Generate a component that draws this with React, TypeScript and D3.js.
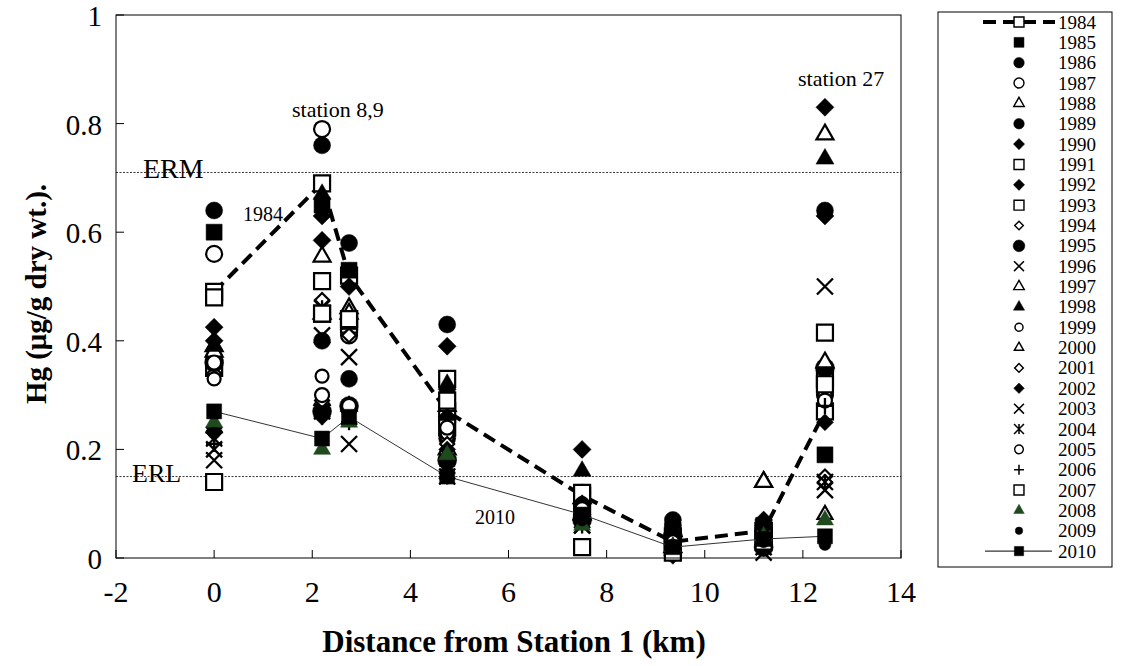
import React from 'react';
import * as d3 from 'd3';

// Sampling stations, distance from Station 1 (km)
const stations = [0, 2.2, 2.75, 4.75, 7.5, 9.35, 11.2, 12.45];

// Hg concentration (µg/g dry wt.) per year at each station
const hg1984 = [0.49, 0.69, 0.52, 0.27, 0.115, 0.03, 0.05, 0.27];
const hg1985 = [0.6, 0.65, 0.53, 0.3, 0.1, 0.05, 0.06, 0.19];
const hg1986 = [0.37, 0.76, 0.58, 0.43, 0.09, 0.06, 0.05, 0.35];
const hg1987 = [0.56, 0.79, 0.41, 0.25, 0.12, 0.04, 0.03, 0.3];
const hg1988 = [0.39, 0.555, 0.46, 0.28, 0.11, 0.05, 0.14, 0.78];
const hg1989 = [0.64, 0.4, 0.33, 0.22, 0.08, 0.07, 0.04, 0.64];
const hg1990 = [0.425, 0.585, 0.5, 0.39, 0.2, 0.005, 0.07, 0.83];
const hg1991 = [0.48, 0.51, 0.44, 0.33, 0.12, 0.04, 0.05, 0.415];
const hg1992 = [0.4, 0.63, 0.42, 0.26, 0.1, 0.03, 0.06, 0.63];
const hg1993 = [0.35, 0.45, 0.43, 0.24, 0.09, 0.02, 0.04, 0.33];
const hg1994 = [0.34, 0.475, 0.41, 0.22, 0.07, 0.03, 0.03, 0.15];
const hg1995 = [0.36, 0.27, 0.28, 0.18, 0.07, 0.04, 0.02, 0.35];
const hg1996 = [0.2, 0.41, 0.37, 0.17, 0.06, 0.03, 0.03, 0.5];
const hg1997 = [0.38, 0.45, 0.45, 0.2, 0.08, 0.02, 0.14, 0.36];
const hg1998 = [0.39, 0.67, 0.43, 0.32, 0.16, 0.05, 0.06, 0.735];
const hg1999 = [0.33, 0.335, 0.27, 0.23, 0.1, 0.03, 0.04, 0.3];
const hg2000 = [0.24, 0.29, 0.28, 0.19, 0.09, 0.02, 0.03, 0.08];
const hg2001 = [0.23, 0.29, 0.27, 0.21, 0.08, 0.01, 0.02, 0.14];
const hg2002 = [0.24, 0.26, 0.27, 0.2, 0.1, 0.01, 0.03, 0.25];
const hg2003 = [0.18, 0.27, 0.21, 0.16, 0.07, 0.02, 0.01, 0.125];
const hg2004 = [0.22, 0.46, 0.26, 0.15, 0.06, 0.01, 0.02, 0.14];
const hg2005 = [0.36, 0.3, 0.28, 0.24, 0.09, 0.02, 0.03, 0.29];
const hg2006 = [0.21, 0.26, 0.25, 0.17, 0.07, 0.02, 0.02, 0.28];
const hg2007 = [0.14, 0.45, 0.44, 0.29, 0.02, 0.01, 0.03, 0.32];
const hg2008 = [0.25, 0.2, 0.25, 0.19, 0.06, 0.02, 0.04, 0.07];
const hg2009 = [0.23, 0.27, 0.26, 0.16, 0.07, 0.02, 0.03, 0.025];
const hg2010 = [0.27, 0.22, 0.26, 0.15, 0.08, 0.02, 0.035, 0.04];

const years = [
  '1984', '1985', '1986', '1987', '1988', '1989', '1990', '1991', '1992',
  '1993', '1994', '1995', '1996', '1997', '1998', '1999', '2000', '2001',
  '2002', '2003', '2004', '2005', '2006', '2007', '2008', '2009', '2010',
];
const series = [
  hg1984, hg1985, hg1986, hg1987, hg1988, hg1989, hg1990, hg1991, hg1992,
  hg1993, hg1994, hg1995, hg1996, hg1997, hg1998, hg1999, hg2000, hg2001,
  hg2002, hg2003, hg2004, hg2005, hg2006, hg2007, hg2008, hg2009, hg2010,
];

// Sediment quality guidelines
const ERM = 0.71;
const ERL = 0.15;

const xTicks = [-2, 0, 2, 4, 6, 8, 10, 12, 14];
const yTicks = [0, 0.2, 0.4, 0.6, 0.8, 1];

type Marker = { shape: string; filled: boolean; size: number; color?: string };
const markers: Marker[] = [
  { shape: 'sq', filled: false, size: 16 },
  { shape: 'sq', filled: true, size: 16 },
  { shape: 'circ', filled: true, size: 17 },
  { shape: 'circ', filled: false, size: 16 },
  { shape: 'tri', filled: false, size: 17 },
  { shape: 'circ', filled: true, size: 17 },
  { shape: 'dia', filled: true, size: 18 },
  { shape: 'sq', filled: false, size: 16 },
  { shape: 'dia', filled: true, size: 18 },
  { shape: 'sq', filled: false, size: 16 },
  { shape: 'dia', filled: false, size: 14 },
  { shape: 'circ', filled: true, size: 19 },
  { shape: 'x', filled: false, size: 16 },
  { shape: 'tri', filled: false, size: 17 },
  { shape: 'tri', filled: true, size: 18 },
  { shape: 'circ', filled: false, size: 13 },
  { shape: 'tri', filled: false, size: 15 },
  { shape: 'dia', filled: false, size: 14 },
  { shape: 'dia', filled: true, size: 17 },
  { shape: 'x', filled: false, size: 16 },
  { shape: 'ast', filled: false, size: 16 },
  { shape: 'circ', filled: false, size: 14 },
  { shape: 'plus', filled: false, size: 16 },
  { shape: 'sq', filled: false, size: 16 },
  { shape: 'tri', filled: true, size: 17, color: '#1e4a1e' },
  { shape: 'circ', filled: true, size: 12 },
  { shape: 'sq', filled: true, size: 15 },
];

function markerPath(shape: string, s: number): string {
  const h = s / 2;
  switch (shape) {
    case 'sq':
      return `M${-h},${-h}h${s}v${s}h${-s}Z`;
    case 'circ':
      return `M${h},0A${h},${h},0,1,1,${-h},0A${h},${h},0,1,1,${h},0Z`;
    case 'tri':
      return `M0,${-s * 0.58}L${h},${s * 0.29}L${-h},${s * 0.29}Z`;
    case 'dia':
      return `M0,${-h}L${h},0L0,${h}L${-h},0Z`;
    case 'x':
      return `M${-h},${-h}L${h},${h}M${-h},${h}L${h},${-h}`;
    case 'plus':
      return `M${-h},0L${h},0M0,${-h}L0,${h}`;
    case 'ast':
      return `M${-h},${-h}L${h},${h}M${-h},${h}L${h},${-h}M0,${-h}L0,${h}`;
    default:
      return '';
  }
}

function MarkerGlyph({ m, scale = 1 }: { m: Marker; scale?: number }) {
  const color = m.color || '#000';
  const stroked = m.shape === 'x' || m.shape === 'plus' || m.shape === 'ast';
  return (
    <path
      d={markerPath(m.shape, m.size * scale)}
      fill={stroked ? 'none' : m.filled ? color : '#fff'}
      stroke={color}
      strokeWidth={stroked ? 2 * scale + 0.3 : m.filled ? 0.5 : 2 * scale + 0.2}
    />
  );
}

const W = 1137;
const H = 666;
const x = d3.scaleLinear().domain([-2, 14]).range([116, 901]);
const y = d3.scaleLinear().domain([0, 1]).range([558, 15]);

const serif = '"Liberation Serif", "Times New Roman", serif';

export default function App() {
  const line = d3
    .line<number>()
    .x((_, i) => x(stations[i]))
    .y((v) => y(v));

  const legendTop = 22;
  const legendStep = 20.35;

  return (
    <svg width={W} height={H} style={{ position: 'absolute', left: 0, top: 0, background: '#fff' }}>
      <rect x={0} y={0} width={W} height={H} fill="#fff" />

      {/* guideline levels */}
      <line x1={x(-2)} x2={x(14)} y1={y(ERM)} y2={y(ERM)} stroke="#000" strokeWidth={0.8} strokeDasharray="2 1.5" />
      <line x1={x(-2)} x2={x(14)} y1={y(ERL)} y2={y(ERL)} stroke="#000" strokeWidth={0.8} strokeDasharray="2 1.5" />

      {/* series: lines for 1984 and 2010, then markers */}
      {series.map((vals, si) => (
        <g key={years[si]}>
          {si === 0 && (
            <path d={line(vals) || ''} fill="none" stroke="#000" strokeWidth={4} strokeDasharray="13 7" />
          )}
          {si === series.length - 1 && (
            <path d={line(vals) || ''} fill="none" stroke="#333" strokeWidth={1} />
          )}
          {vals.map((v, i) => (
            <g key={i} transform={`translate(${x(stations[i])},${y(v)})`}>
              <MarkerGlyph m={markers[si]} />
            </g>
          ))}
        </g>
      ))}

      {/* frame */}
      <rect x={x(-2)} y={y(1)} width={x(14) - x(-2)} height={y(0) - y(1)} fill="none" stroke="#000" strokeWidth={1} />

      {/* ticks */}
      {xTicks.map((t) => (
        <g key={`x${t}`}>
          <line x1={x(t)} x2={x(t)} y1={y(0)} y2={y(0) - 8} stroke="#000" strokeWidth={1} />
          <text x={x(t)} y={591} fontFamily={serif} fontSize={30} textAnchor="middle" dominantBaseline="central">
            {t}
          </text>
        </g>
      ))}
      {yTicks.map((t) => (
        <g key={`y${t}`}>
          <line x1={x(-2)} x2={x(-2) + 8} y1={y(t)} y2={y(t)} stroke="#000" strokeWidth={1} />
          <text x={102} y={y(t) + 1} fontFamily={serif} fontSize={29} textAnchor="end" dominantBaseline="central">
            {t}
          </text>
        </g>
      ))}

      {/* annotations */}
      <text x={143} y={178} fontFamily={serif} fontSize={28}>ERM</text>
      <text x={132} y={482} fontFamily={serif} fontSize={26}>ERL</text>
      <text x={243} y={221} fontFamily={serif} fontSize={20}>1984</text>
      <text x={475} y={524} fontFamily={serif} fontSize={20}>2010</text>
      <text x={292} y={117} fontFamily={serif} fontSize={22}>station 8,9</text>
      <text x={798} y={86} fontFamily={serif} fontSize={22}>station 27</text>

      {/* axis titles */}
      <text x={514} y={641} fontFamily={serif} fontSize={31} fontWeight="bold" textAnchor="middle" dominantBaseline="central">
        Distance from Station 1 (km)
      </text>
      <text
        transform="translate(36,294) rotate(-90)"
        fontFamily={serif}
        fontSize={29}
        fontWeight="bold"
        textAnchor="middle"
        dominantBaseline="central"
      >
        Hg (μg/g dry wt.).
      </text>

      {/* legend */}
      <rect x={938} y={12} width={174} height={555} fill="#fff" stroke="#000" strokeWidth={1} />
      {years.map((yr, i) => {
        const cy = legendTop + i * legendStep;
        return (
          <g key={`lg${yr}`}>
            {i === 0 && (
              <line x1={983} x2={1055} y1={cy} y2={cy} stroke="#000" strokeWidth={4} strokeDasharray="13 7" />
            )}
            {i === years.length - 1 && (
              <line x1={985} x2={1052} y1={cy} y2={cy} stroke="#000" strokeWidth={1} />
            )}
            <g transform={`translate(1019,${cy})`}>
              <MarkerGlyph m={markers[i]} scale={0.62} />
            </g>
            <text x={1058} y={cy} fontFamily={serif} fontSize={19} dominantBaseline="central">
              {yr}
            </text>
          </g>
        );
      })}
    </svg>
  );
}
